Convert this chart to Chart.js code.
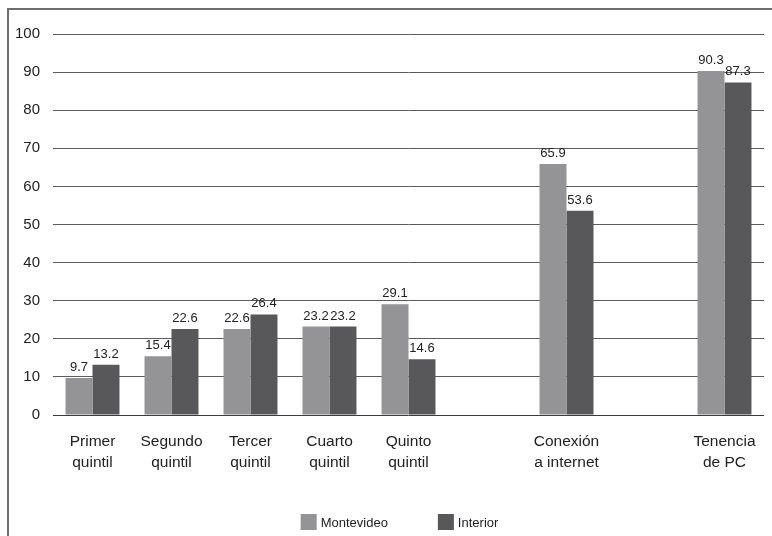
<!DOCTYPE html>
<html lang="es">
<head>
<meta charset="utf-8">
<title>Montevideo e Interior</title>
<script src="https://cdn.jsdelivr.net/npm/chart.js@4.4.1/dist/chart.umd.min.js"></script>
<style>
    html, body { margin: 0; padding: 0; background: #fff; overflow: hidden; }
    .marco {
        position: absolute;
        left: 7px;
        top: 8px;
        width: 800px;
        height: 600px;
        border-left: 2px solid #6e6e6e;
        border-top: 2px solid #6e6e6e;
    }
    .marco canvas { display: block; }
</style>
</head>
<body>
<div class="marco">
    <canvas id="grafico" width="763" height="526"></canvas>
</div>
<script>
// Datos del gráfico (las categorías vacías dejan el hueco entre grupos)
const categorias = [
    ['Primer', 'quintil'],
    ['Segundo', 'quintil'],
    ['Tercer', 'quintil'],
    ['Cuarto', 'quintil'],
    ['Quinto', 'quintil'],
    '',
    ['Conexión', 'a internet'],
    '',
    ['Tenencia', 'de PC']
];
const montevideo = [9.7, 15.4, 22.6, 23.2, 29.1, null, 65.9, null, 90.3];
const interior = [13.2, 22.6, 26.4, 23.2, 14.6, null, 53.6, null, 87.3];
const ejeYMin = 0;
const ejeYMax = 100;
const ejeYPaso = 10;

const fuente = '"Liberation Sans", Arial, sans-serif';

// Etiquetas de valor sobre cada barra
const etiquetasValor = {
    id: 'etiquetasValor',
    afterDatasetsDraw(chart) {
        const ctx = chart.ctx;
        ctx.save();
        ctx.font = '13px ' + fuente;
        ctx.fillStyle = '#222';
        ctx.textAlign = 'center';
        ctx.textBaseline = 'bottom';
        chart.data.datasets.forEach((ds, i) => {
            const meta = chart.getDatasetMeta(i);
            meta.data.forEach((bar, j) => {
                const v = ds.data[j];
                if (v === null || v === undefined) return;
                ctx.fillText(v.toFixed(1), bar.x, bar.y - 4);
            });
        });
        ctx.restore();
    }
};

// Leyenda dibujada a mano para poder separar los elementos
const leyendaInferior = {
    id: 'leyendaInferior',
    afterDraw(chart) {
        const ctx = chart.ctx;
        const caja = 16;
        const separacion = 4;
        const hueco = 50;
        ctx.save();
        ctx.font = '13px ' + fuente;
        ctx.textBaseline = 'middle';
        const anchos = chart.data.datasets.map(ds => caja + separacion + ctx.measureText(ds.label).width);
        const total = anchos.reduce((a, b) => a + b, 0) + hueco * (anchos.length - 1);
        let x = (chart.chartArea.left + chart.chartArea.right) / 2 - 9 - total / 2;
        const y = chart.height - 14;
        chart.data.datasets.forEach((ds, i) => {
            ctx.fillStyle = ds.backgroundColor;
            ctx.fillRect(x, y - caja / 2, caja, caja);
            ctx.fillStyle = '#222';
            ctx.fillText(ds.label, x + caja + separacion, y + 1);
            x += anchos[i] + hueco;
        });
        ctx.restore();
    }
};

new Chart(document.getElementById('grafico'), {
    type: 'bar',
    data: {
        labels: categorias,
        datasets: [
            {
                label: 'Montevideo',
                data: montevideo,
                backgroundColor: '#949497',
                borderWidth: 0
            },
            {
                label: 'Interior',
                data: interior,
                backgroundColor: '#58585b',
                borderWidth: 0
            }
        ]
    },
    options: {
        responsive: false,
        animation: false,
        datasets: {
            bar: {
                categoryPercentage: 0.683,
                barPercentage: 1
            }
        },
        layout: {
            padding: { top: 24, right: 8, bottom: 41, left: 0 }
        },
        plugins: {
            legend: { display: false },
            tooltip: { enabled: false }
        },
        scales: {
            x: {
                grid: { display: false },
                border: { display: false },
                ticks: {
                    color: '#222',
                    font: { family: fuente, size: 15.5, lineHeight: 1.3 },
                    padding: 9,
                    maxRotation: 0,
                    autoSkip: false
                },
                afterFit(scale) { scale.height = 80; }
            },
            y: {
                min: ejeYMin,
                max: ejeYMax,
                grid: {
                    color: ctx => ctx.tick.value === 0 ? '#3c3c3c' : '#5c5c5c',
                    lineWidth: 1,
                    drawTicks: false
                },
                border: { display: false },
                ticks: {
                    stepSize: ejeYPaso,
                    color: '#222',
                    font: { family: fuente, size: 15 },
                    padding: 13
                },
                afterFit(scale) { scale.width = 44; }
            }
        }
    },
    plugins: [etiquetasValor, leyendaInferior]
});
</script>
</body>
</html>
